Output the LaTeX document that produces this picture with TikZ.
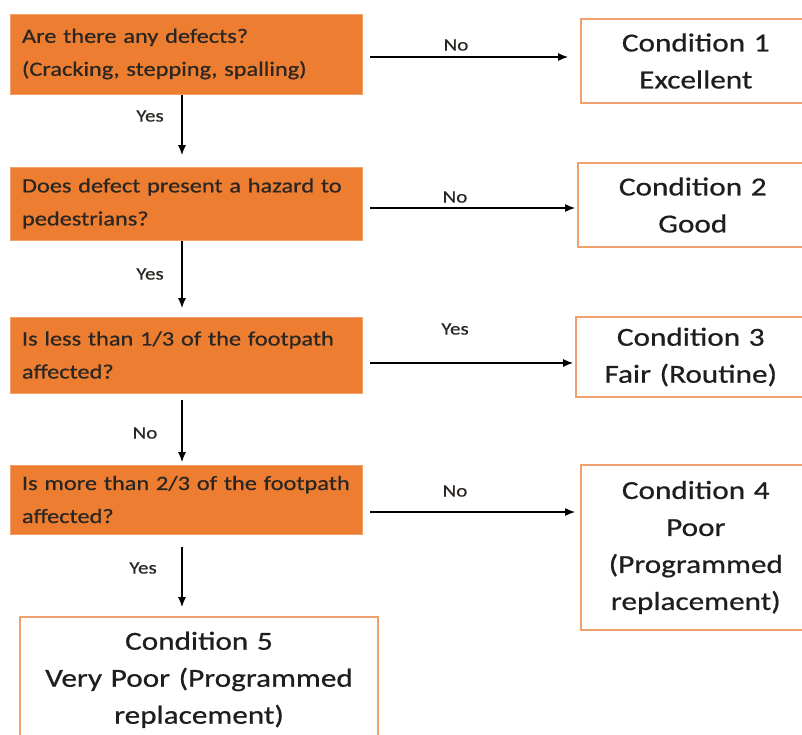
\documentclass[tikz,border=0pt]{standalone}
\usepackage{fontspec}
\setmainfont[FakeStretch=1.2,FakeBold=0.6]{Carlito}
\usetikzlibrary{arrows.meta}
\definecolor{qfill}{HTML}{ED7D31}
\definecolor{qline}{HTML}{F2A36C}
\definecolor{cline}{HTML}{F0A06C}
\definecolor{qtext}{HTML}{2A2622}
\definecolor{ctext}{HTML}{1E1E1E}
\tikzset{
  qbox/.style={draw=qline, line width=1pt, fill=qfill, minimum width=352pt, text width=328pt, align=left, inner sep=0pt, text=qtext, font=\fontsize{20.3}{33}\selectfont},
  cbox/.style={draw=cline, line width=1.6pt, fill=white, anchor=west, minimum width=230pt, text width=226pt, align=center, inner sep=0pt, text=ctext, font=\fontsize{26}{37}\selectfont},
  arr/.style={-{Latex[length=10pt,width=8pt]}, line width=1.1pt, black},
  lbl/.style={font=\fontsize{17.5}{20}\selectfont, text=qtext, inner sep=0pt}
}
\begin{document}
\begin{tikzpicture}[x=1pt,y=-1pt]
\useasboundingbox (0,0) rectangle (802,734);
\clip (0,0) rectangle (802,734);
% question boxes
\node[qbox, minimum height=80pt] (q1) at (186,54) {Are there any defects?\\(Cracking, stepping, spalling)};
\node[qbox, minimum height=73pt] (q2) at (186,203.5) {Does defect present a hazard to\\pedestrians?};
\node[qbox, minimum height=76pt] (q3) at (186,355) {Is less than 1/3 of the footpath\\affected?};
\node[qbox, minimum height=69pt] (q4) at (186,499.5) {Is more than 2/3 of the footpath\\affected?};
% condition boxes
\node[cbox, minimum height=84pt] (c1) at (580,61) {Condition 1\\Excellent};
\node[cbox, minimum height=84pt] (c2) at (577,205) {Condition 2\\Good};
\node[cbox, minimum height=80pt] (c3) at (575,357) {Condition 3\\Fair (Routine)};
\node[cbox, minimum height=165pt] (c4) at (580,547.5) {Condition 4\\Poor\\(Programmed\\replacement)};
\node[cbox, anchor=north, minimum width=358pt, text width=350pt, minimum height=126pt] (c5) at (199,616) {Condition 5\\Very Poor (Programmed\\replacement)};
% vertical arrows
\draw[arr] (q1.south -| 182,0) -- (182,155) coordinate (e1);
\draw[arr] (q2.south -| 182,0) -- (182,308) coordinate (e2);
\draw[arr] (182,400) coordinate (s3) -- (182,462) coordinate (e3);
\draw[arr] (182,547) coordinate (s4) -- (182,607) coordinate (e4);
% horizontal arrows
\draw[arr] (370,57) coordinate (h1) -- (568,57) coordinate (t1);
\draw[arr] (370,208) coordinate (h2) -- (575,208) coordinate (t2);
\draw[arr] (370,363) coordinate (h3) -- (573,363) coordinate (t3);
\draw[arr] (370,512) coordinate (h4) -- (575,512) coordinate (t4);
% labels
\node[lbl] (y1) at (150,116) {Yes};
\node[lbl] (y2) at (150,274) {Yes};
\node[lbl] (n3) at (145,433) {No};
\node[lbl] (y4) at (143,568) {Yes};
\node[lbl] (n1) at (456,45) {No};
\node[lbl] (n2) at (455,197) {No};
\node[lbl] (y3) at (455,329) {Yes};
\node[lbl] (n4) at (455,491) {No};
\end{tikzpicture}
\end{document}
